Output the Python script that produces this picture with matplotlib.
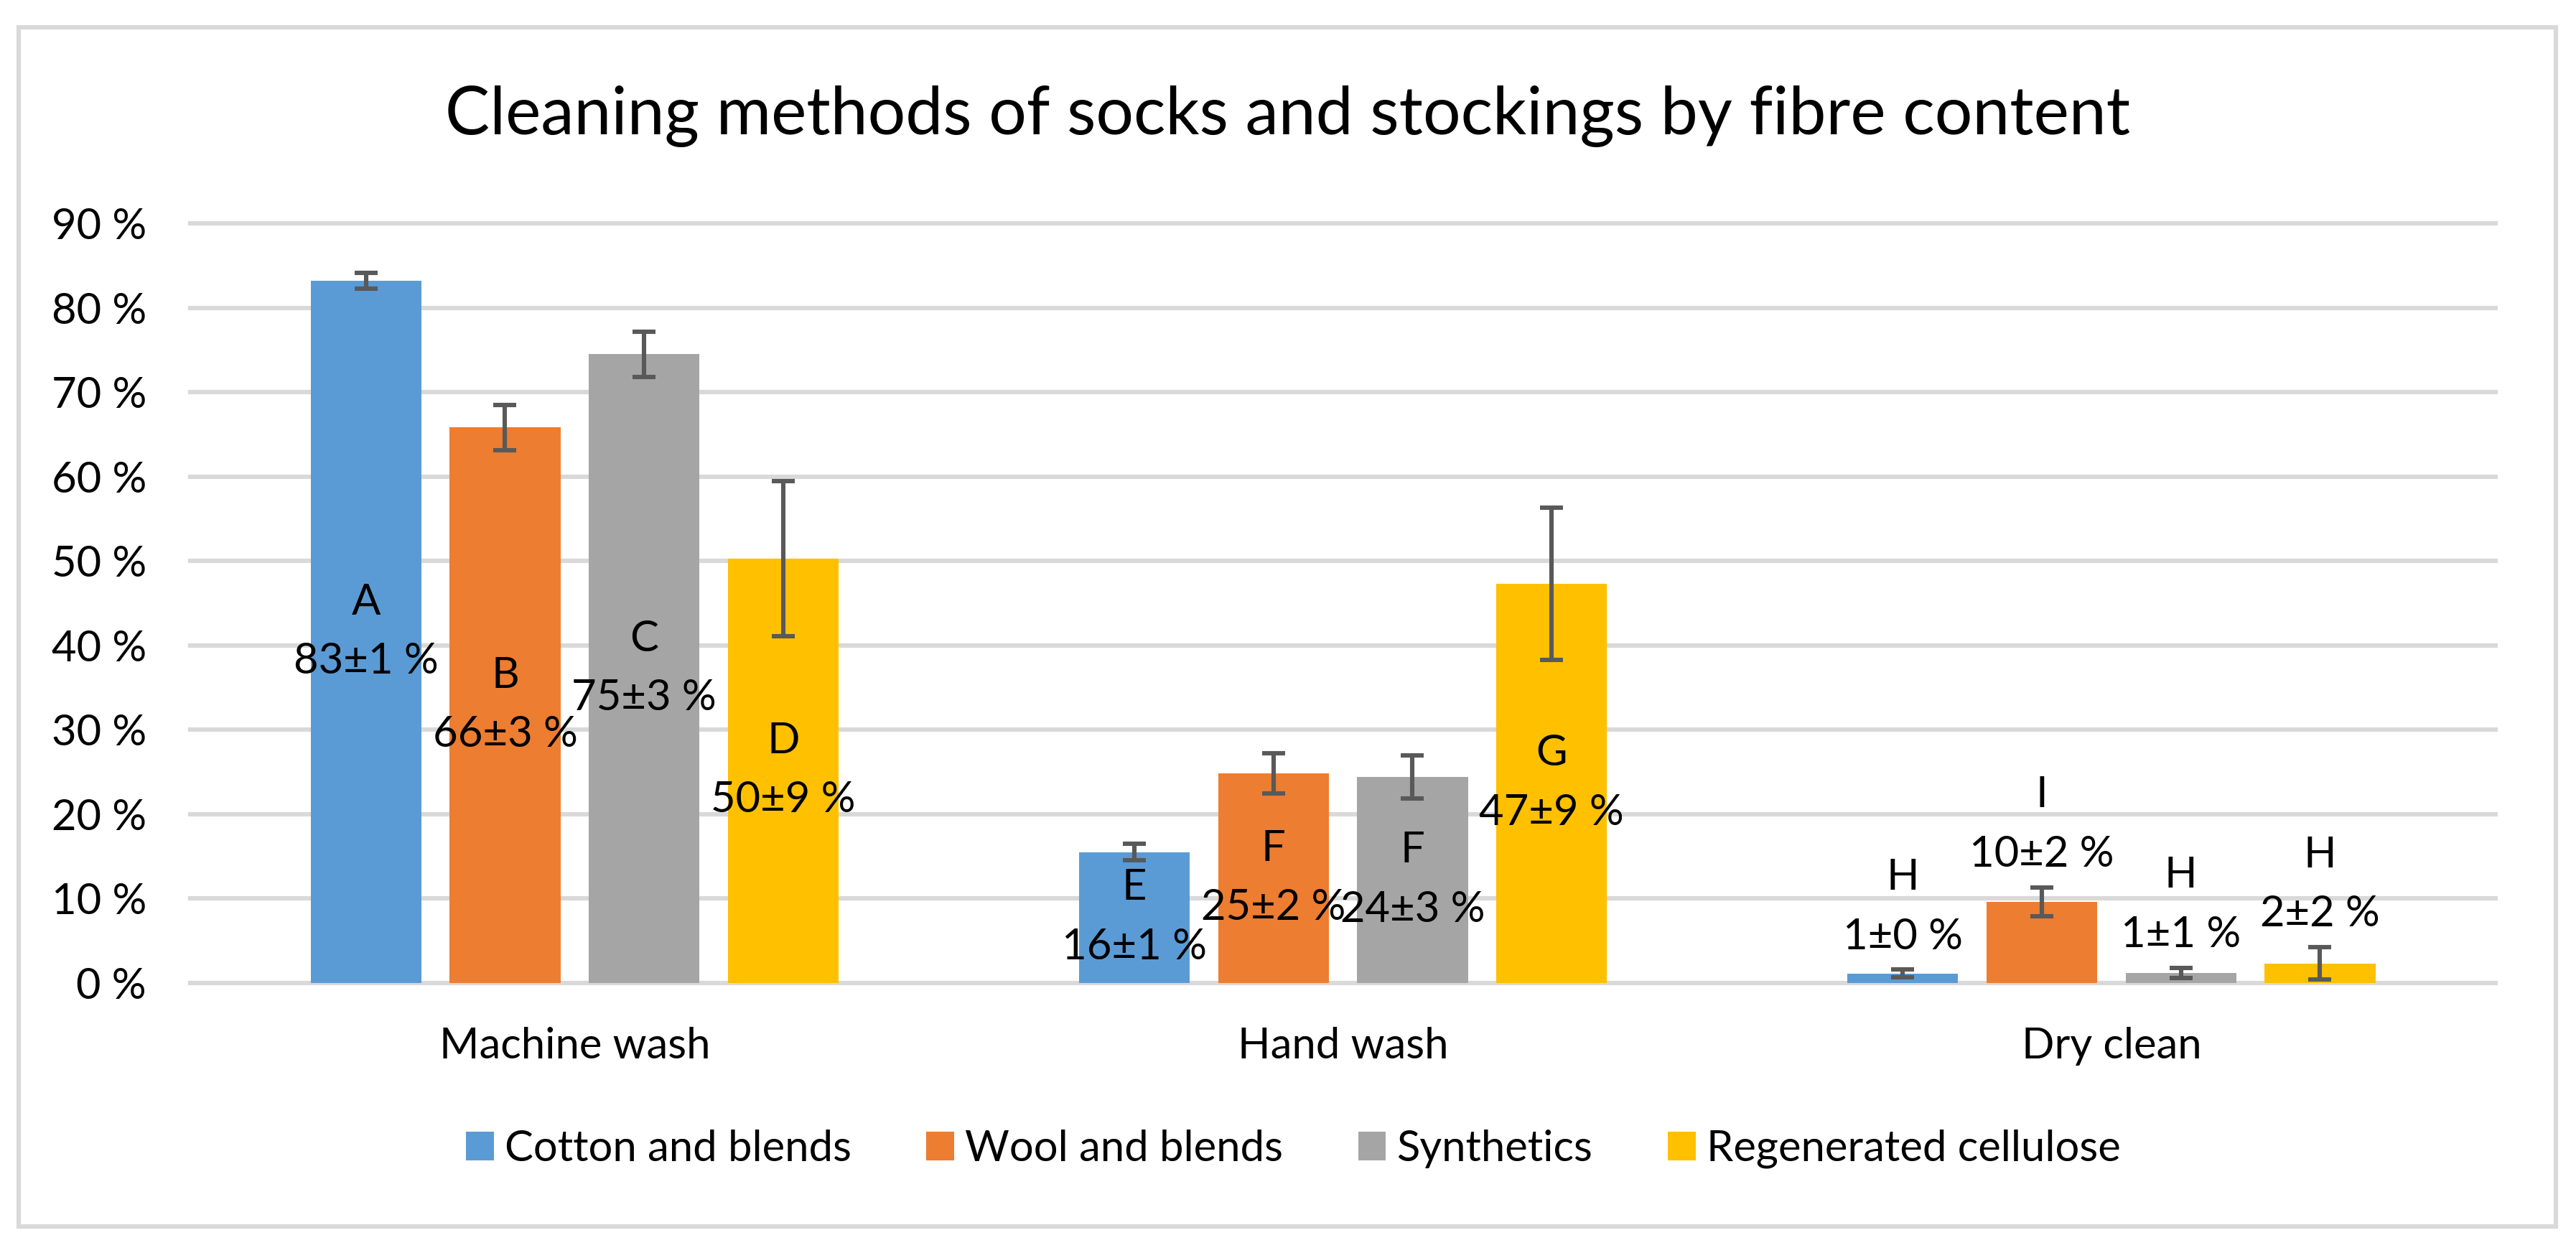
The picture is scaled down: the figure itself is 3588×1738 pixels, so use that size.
import matplotlib
matplotlib.use("Agg")
import matplotlib.pyplot as plt
from matplotlib.patches import Patch, Rectangle
import numpy as np

# data (percent)
categories = ["Machine wash", "Hand wash", "Dry clean"]
series = ["Cotton and blends", "Wool and blends", "Synthetics", "Regenerated cellulose"]
colors = ["#5B9BD5", "#ED7D31", "#A5A5A5", "#FFC000"]

cotton = [83.2, 15.5, 1.1]
wool = [65.8, 24.8, 9.6]
synthetics = [74.5, 24.4, 1.2]
regenerated = [50.3, 47.3, 2.3]

cotton_err = [0.9, 0.95, 0.45]
wool_err = [2.7, 2.4, 1.7]
synthetics_err = [2.7, 2.55, 0.6]
regenerated_err = [9.2, 9.0, 1.9]

cotton_grp = ["A", "E", "H"]
wool_grp = ["B", "F", "I"]
synthetics_grp = ["C", "F", "H"]
regenerated_grp = ["D", "G", "H"]

cotton_lbl = ["83±1 %", "16±1 %", "1±0 %"]
wool_lbl = ["66±3 %", "25±2 %", "10±2 %"]
synthetics_lbl = ["75±3 %", "24±3 %", "1±1 %"]
regenerated_lbl = ["50±9 %", "47±9 %", "2±2 %"]

yticks = [0, 10, 20, 30, 40, 50, 60, 70, 80, 90]

values = [cotton, wool, synthetics, regenerated]
errors = [cotton_err, wool_err, synthetics_err, regenerated_err]
groups = [cotton_grp, wool_grp, synthetics_grp, regenerated_grp]
labels = [cotton_lbl, wool_lbl, synthetics_lbl, regenerated_lbl]

FONT = "Lato"
FS = 21.5
GRID = "#D9D9D9"

fig = plt.figure(figsize=(17.94, 8.69), dpi=200)
fig.patches.append(Rectangle((0.00725, 0.01726), 0.98495, 0.96088, transform=fig.transFigure,
                             fill=False, edgecolor=GRID, linewidth=2.2))
ax = fig.add_axes([0.0739, 0.2125, 0.8949, 0.6085])

x = np.arange(len(categories))
step = 0.181
width = 0.144
for i in range(4):
    xs = x + (i - 1.5) * step
    ax.bar(xs, values[i], width, color=colors[i], zorder=2)
    ax.errorbar(xs, values[i], yerr=errors[i], fmt="none", ecolor="#595959",
                elinewidth=2.2, capsize=5.8, capthick=2.2, zorder=3)
    for j in range(len(categories)):
        txt = groups[i][j] + "\n" + labels[i][j]
        if j == 2:
            # dry clean labels sit above the error bar
            ax.annotate(txt, (xs[j], values[i][j] + errors[i][j]), xytext=(0, 10.4),
                        textcoords="offset points", ha="center", va="baseline",
                        fontsize=FS, family=FONT, linespacing=1.65, zorder=4)
        else:
            ax.text(xs[j], values[i][j] / 2, txt, ha="center", va="center",
                    fontsize=FS, family=FONT, linespacing=1.65, zorder=4)

ax.set_xlim(-0.5, 2.5)
ax.set_ylim(0, 90)
ax.set_yticks(yticks)
ax.set_yticklabels([f"{t} %" for t in yticks], family=FONT, fontsize=FS)
ax.set_xticks(x)
ax.set_xticklabels(categories, family=FONT, fontsize=FS)
ax.tick_params(axis="y", length=0, pad=22)
ax.tick_params(axis="x", length=0, pad=22)
for s in ax.spines.values():
    s.set_visible(False)
ax.set_axisbelow(True)
ax.yaxis.grid(True, color=GRID, linewidth=2.2)
for gl in ax.get_ygridlines():
    gl.set_clip_on(False)

fig.text(0.5, 0.907, "Cleaning methods of socks and stockings by fibre content",
         ha="center", va="center", fontsize=33.5, family=FONT)

handles = [Patch(facecolor=c) for c in colors]
fig.legend(handles, series, loc="center", bbox_to_anchor=(0.502, 0.0794), ncol=4,
           frameon=False, prop={"family": FONT, "size": FS}, handlelength=0.65,
           handleheight=0.65, handletextpad=0.25, columnspacing=1.75)

fig.savefig("out.png", dpi=200)
